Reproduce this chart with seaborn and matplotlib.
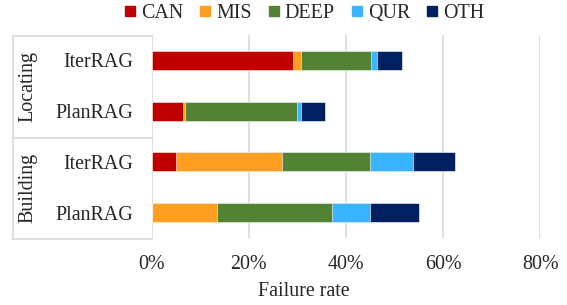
import pandas as pd
import matplotlib.pyplot as plt
import seaborn as sns
from matplotlib.lines import Line2D

# Failure-rate breakdown (%) per method and stage
groups = ['Locating', 'Locating', 'Building', 'Building']
methods = ['IterRAG', 'PlanRAG', 'IterRAG', 'PlanRAG']
series = ['CAN', 'MIS', 'DEEP', 'QUR', 'OTH']
can = [29.2, 6.5, 5.0, 0.0]
mis = [1.6, 0.3, 21.8, 13.5]
deep = [14.4, 23.1, 18.2, 23.6]
qur = [1.2, 0.9, 8.9, 7.9]
oth = [5.1, 5.0, 8.5, 10.0]
colors = ['#C00000', '#FF9F22', '#548235', '#3BB4FF', '#002060']

sns.set_style('white')
plt.rcParams['font.family'] = ['Liberation Serif', 'DejaVu Serif']
plt.rcParams['font.size'] = 14.4

# Build the table and cumulative sums for stacking
df = pd.DataFrame({'CAN': can, 'MIS': mis, 'DEEP': deep, 'QUR': qur, 'OTH': oth})
df['row'] = [g + '|' + m for g, m in zip(groups, methods)]
cum = df[series].cumsum(axis=1)
cum['row'] = df['row']

fig = plt.figure(figsize=(5.67, 3.05), dpi=100)
ax = fig.add_axes([0.2672, 0.2197, 0.6852, 0.6656])

# Draw the stacked bars from the outermost segment inward
for name, col in reversed(list(zip(series, colors))):
    sns.barplot(data=cum, x=name, y='row', orient='h', color=col, width=0.37,
                edgecolor='white', linewidth=0.4, saturation=1, ax=ax, zorder=3)

ax.set_xlim(0, 80)
ax.set_xticks([0, 20, 40, 60, 80])
ax.set_xticklabels(['0%', '20%', '40%', '60%', '80%'])
ax.set_yticks(range(4))
ax.set_yticklabels(methods)
ax.set_xlabel('')
ax.set_ylabel('')
ax.grid(axis='x', color='#d9d9d9', linewidth=1.2, zorder=0)
for s in ax.spines.values():
    s.set_visible(False)
ax.tick_params(axis='x', length=0, pad=12)
ax.tick_params(axis='y', length=0, pad=13)

# Multi-level category box on the left
line_kw = dict(color='#d9d9d9', linewidth=1.2, transform=fig.transFigure)
x0, x1 = 13.3 / 567, 151.5 / 567
for yy in [1 - 36 / 305, 1 - 137.7 / 305, 1 - 238.5 / 305]:
    fig.add_artist(Line2D([x0, x1], [yy, yy], **line_kw))
fig.add_artist(Line2D([x0, x0], [1 - 36 / 305, 1 - 238.5 / 305], **line_kw))
fig.text(28 / 567, 1 - 87 / 305, 'Locating', rotation=90, ha='center', va='center')
fig.text(28 / 567, 1 - 188 / 305, 'Building', rotation=90, ha='center', va='center')

fig.text(0.535, 1 - 291 / 305, 'Failure rate', ha='center', va='center')

handles = [Line2D([], [], marker='s', linestyle='', color=c, markersize=7) for c in colors]
fig.legend(handles, series, loc='center', bbox_to_anchor=(0.537, 0.957), ncol=5,
           frameon=False, handlelength=0.5, handletextpad=0.3, columnspacing=0.85,
           borderaxespad=0, borderpad=0)

plt.savefig('out.png', dpi=100)
